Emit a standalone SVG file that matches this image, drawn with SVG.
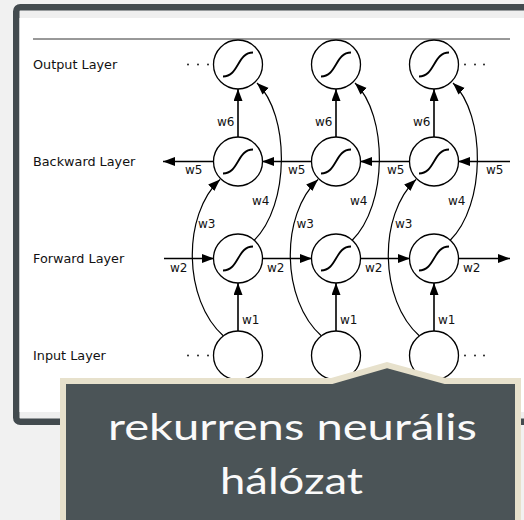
<svg xmlns="http://www.w3.org/2000/svg" width="524" height="520" viewBox="0 0 524 520">
<defs>
<marker id="ah" markerUnits="userSpaceOnUse" markerWidth="13" markerHeight="10" refX="12" refY="4.5" orient="auto">
<path d="M0,0 L12,4.5 L0,9 Z" fill="#000"/>
</marker>
<path id="sig" d="M-15,12 C1,12 -1,-12 15,-12" fill="none" stroke="#000" stroke-width="1.8"/>
</defs>
<style>
.lbl{font-family:"DejaVu Sans",sans-serif;font-size:12.8px;fill:#111}
.w{font-family:"DejaVu Sans",sans-serif;font-size:12px;fill:#111}
.node circle{fill:#fff;stroke:#000;stroke-width:1.3}
.st{stroke:#000;stroke-width:1.6;fill:none;marker-end:url(#ah)}
.cv{stroke:#000;stroke-width:1.2;fill:none;marker-end:url(#ah)}
.dot{fill:#222}
.big{font-family:"Lato","Gill Sans","Noto Sans",sans-serif;font-size:37px;fill:#fafafa;text-anchor:middle}
</style>
<rect x="0" y="0" width="524" height="520" fill="#f1f1f1"/>
<rect x="16.25" y="7.25" width="520" height="414.5" rx="4" fill="#efefef" stroke="#434b4f" stroke-width="6.5"/>
<rect x="19.5" y="18" width="510" height="394" fill="#fff"/>
<line x1="33" y1="39" x2="510" y2="39" stroke="#333" stroke-width="1"/>

<text class="lbl" x="33" y="68.5">Output Layer</text>
<text class="lbl" x="33" y="166">Backward Layer</text>
<text class="lbl" x="33" y="263">Forward Layer</text>
<text class="lbl" x="33" y="360">Input Layer</text>

<g id="connectors">
<!-- w6 -->
<line class="st" x1="238" y1="137" x2="238" y2="89"/>
<line class="st" x1="336" y1="137" x2="336" y2="89"/>
<line class="st" x1="434" y1="137" x2="434" y2="89"/>
<!-- w1 -->
<line class="st" x1="238" y1="331" x2="238" y2="283"/>
<line class="st" x1="336" y1="331" x2="336" y2="283"/>
<line class="st" x1="434" y1="331" x2="434" y2="283"/>
<!-- w5 backward -->
<line class="st" x1="214" y1="161.5" x2="163" y2="161.5"/>
<line class="st" x1="312" y1="161.5" x2="262" y2="161.5"/>
<line class="st" x1="410" y1="161.5" x2="360" y2="161.5"/>
<line class="st" x1="510" y1="161.5" x2="458" y2="161.5"/>
<!-- w2 forward -->
<line class="st" x1="164" y1="258.5" x2="214" y2="258.5"/>
<line class="st" x1="262" y1="258.5" x2="312" y2="258.5"/>
<line class="st" x1="360" y1="258.5" x2="410" y2="258.5"/>
<line class="st" x1="458" y1="258.5" x2="510" y2="258.5"/>
<!-- w3 curves -->
<path class="cv" d="M223.5,336 C183,300 182,215 220,179.5"/>
<path class="cv" d="M321.5,336 C281,300 280,215 318,179.5"/>
<path class="cv" d="M419.5,336 C379,300 378,215 416,179.5"/>
<!-- w4 curves -->
<path class="cv" d="M254,240.5 C290,205 290,115 257,83"/>
<path class="cv" d="M352,240.5 C388,205 388,115 355,83"/>
<path class="cv" d="M450,240.5 C486,205 486,115 453,83"/>
</g>

<g id="weights">
<text class="w" x="217" y="126">w6</text>
<text class="w" x="315" y="126">w6</text>
<text class="w" x="413" y="126">w6</text>
<text class="w" x="185" y="174">w5</text>
<text class="w" x="288" y="174">w5</text>
<text class="w" x="387" y="174">w5</text>
<text class="w" x="486" y="174">w5</text>
<text class="w" x="252" y="205">w4</text>
<text class="w" x="350" y="205">w4</text>
<text class="w" x="448" y="205">w4</text>
<text class="w" x="198" y="228">w3</text>
<text class="w" x="296.5" y="228">w3</text>
<text class="w" x="395" y="228">w3</text>
<text class="w" x="170" y="271.5">w2</text>
<text class="w" x="267" y="271.5">w2</text>
<text class="w" x="365" y="271.5">w2</text>
<text class="w" x="463" y="271.5">w2</text>
<text class="w" x="242" y="324">w1</text>
<text class="w" x="340" y="324">w1</text>
<text class="w" x="438" y="324">w1</text>
</g>

<g id="out1" class="node"><circle cx="238" cy="64.5" r="24.5"/><use href="#sig" x="238" y="64.5"/></g>
<g id="out2" class="node"><circle cx="336" cy="64.5" r="24.5"/><use href="#sig" x="336" y="64.5"/></g>
<g id="out3" class="node"><circle cx="434" cy="64.5" r="24.5"/><use href="#sig" x="434" y="64.5"/></g>
<g id="bwd1" class="node"><circle cx="238" cy="161.5" r="24.5"/><use href="#sig" x="238" y="161.5"/></g>
<g id="bwd2" class="node"><circle cx="336" cy="161.5" r="24.5"/><use href="#sig" x="336" y="161.5"/></g>
<g id="bwd3" class="node"><circle cx="434" cy="161.5" r="24.5"/><use href="#sig" x="434" y="161.5"/></g>
<g id="fwd1" class="node"><circle cx="238" cy="258.5" r="24.5"/><use href="#sig" x="238" y="258.5"/></g>
<g id="fwd2" class="node"><circle cx="336" cy="258.5" r="24.5"/><use href="#sig" x="336" y="258.5"/></g>
<g id="fwd3" class="node"><circle cx="434" cy="258.5" r="24.5"/><use href="#sig" x="434" y="258.5"/></g>
<g id="in1" class="node"><circle cx="238" cy="355.5" r="24.5"/></g>
<g id="in2" class="node"><circle cx="336" cy="355.5" r="24.5"/></g>
<g id="in3" class="node"><circle cx="434" cy="355.5" r="24.5"/></g>

<g id="dots">
<circle class="dot" cx="188" cy="64.5" r="1"/><circle class="dot" cx="198" cy="64.5" r="1"/><circle class="dot" cx="208" cy="64.5" r="1"/>
<circle class="dot" cx="465" cy="64.5" r="1"/><circle class="dot" cx="475" cy="64.5" r="1"/><circle class="dot" cx="484" cy="64.5" r="1"/>
<circle class="dot" cx="188" cy="355.5" r="1"/><circle class="dot" cx="198" cy="355.5" r="1"/><circle class="dot" cx="208" cy="355.5" r="1"/>
<circle class="dot" cx="465" cy="355.5" r="1"/><circle class="dot" cx="475" cy="355.5" r="1"/><circle class="dot" cx="484" cy="355.5" r="1"/>
</g>

<g id="callout">
<path d="M63,381 L332,381 L387,365 L445,381 L518,381 L518,530 L63,530 Z" fill="#4b5457" stroke="#e7e1cc" stroke-width="6" stroke-linejoin="miter"/>
<text class="big" x="292.5" y="440" textLength="369" lengthAdjust="spacingAndGlyphs">rekurrens neurális</text>
<text class="big" x="291.5" y="494" textLength="143" lengthAdjust="spacingAndGlyphs">hálózat</text>
</g>
</svg>
